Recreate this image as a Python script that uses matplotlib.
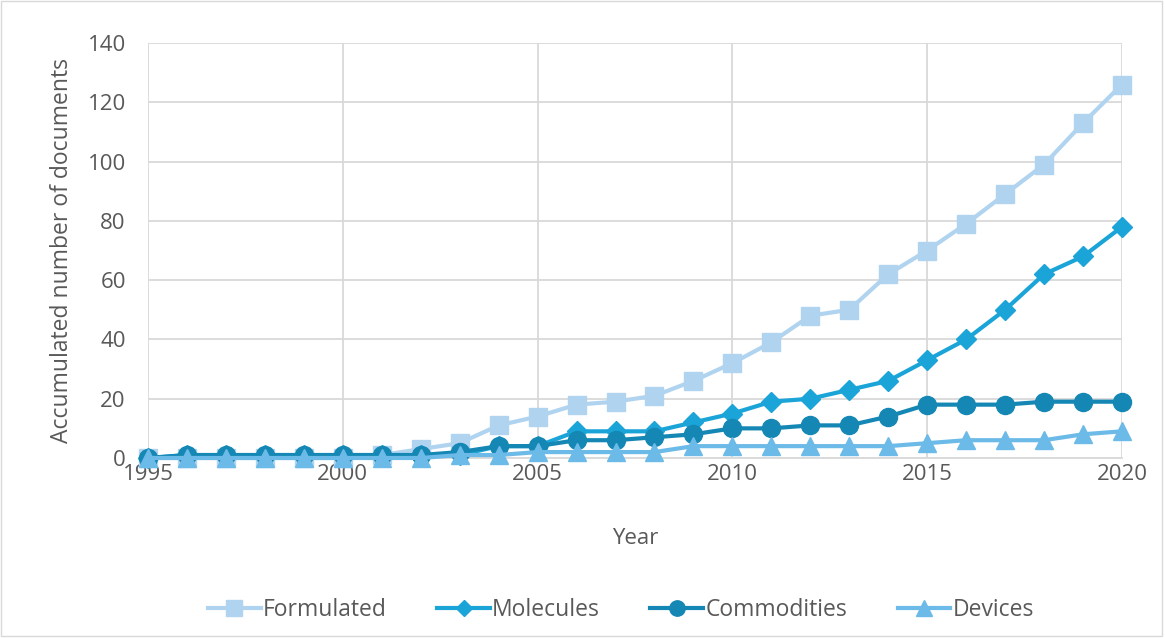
import matplotlib
matplotlib.use('Agg')
import matplotlib.pyplot as plt
from matplotlib.patches import Rectangle

years = list(range(1995, 2021))
formulated = [0, 0, 0, 0, 0, 0, 1, 3, 5, 11, 14, 18, 19, 21, 26, 32, 39, 48, 50, 62, 70, 79, 89, 99, 113, 126]
molecules = [0, 1, 1, 1, 1, 1, 1, 1, 1, 4, 4, 9, 9, 9, 12, 15, 19, 20, 23, 26, 33, 40, 50, 62, 68, 78]
commodities = [0, 1, 1, 1, 1, 1, 1, 1, 2, 4, 4, 6, 6, 7, 8, 10, 10, 11, 11, 14, 18, 18, 18, 19, 19, 19]
devices = [0, 0, 0, 0, 0, 0, 0, 0, 1, 1, 2, 2, 2, 2, 4, 4, 4, 4, 4, 4, 5, 6, 6, 6, 8, 9]

TEXT = '#595959'
plt.rcParams['font.family'] = ['Open Sans', 'DejaVu Sans']

fig = plt.figure(figsize=(11.65, 6.38), dpi=100)
ax = fig.add_axes([148 / 1165, 1 - 458 / 638, (1122 - 148) / 1165, (458 - 43) / 638])

series = [
    ('Formulated', formulated, '#b0d4f0', 's', 13),
    ('Molecules', molecules, '#1ba4d8', 'D', 10),
    ('Commodities', commodities, '#1487b4', 'o', 13),
    ('Devices', devices, '#6cbae8', '^', 13),
]
for name, vals, col, mk, ms in series:
    ax.plot(years, vals, color=col, marker=mk, markersize=ms, linewidth=3,
            label=name, clip_on=False, zorder=3)

ax.set_xlim(1995, 2020)
ax.set_ylim(0, 140)
ax.set_xticks(range(1995, 2021, 5))
ax.set_yticks(range(0, 141, 20))
ax.grid(True, color='#d9d9d9', linewidth=1.3)
ax.set_axisbelow(True)
for s in ['top', 'right', 'left']:
    ax.spines[s].set_visible(False)
ax.spines['bottom'].set_color('#d9d9d9')
ax.spines['bottom'].set_linewidth(1.3)
ax.tick_params(axis='y', length=0, labelsize=16, colors=TEXT, pad=16)
ax.tick_params(axis='x', length=0, labelsize=16, colors=TEXT, pad=4)
ax.set_xlabel('Year', fontsize=16, color=TEXT, labelpad=31)
ax.set_ylabel('Accumulated number of documents', fontsize=16.5, color=TEXT, labelpad=10)

fig.legend(loc='center', bbox_to_anchor=(0.533, 1 - 610 / 638), ncol=4, frameon=False,
           fontsize=16.5, labelcolor=TEXT, handlelength=2.3, columnspacing=2.2,
           handletextpad=0.1, markerscale=0.85)

fig.patches.append(Rectangle((0.001, 0.003), 0.996, 0.995, transform=fig.transFigure,
                             fill=False, edgecolor='#d9d9d9', linewidth=1))

plt.savefig('out.png', dpi=100)
